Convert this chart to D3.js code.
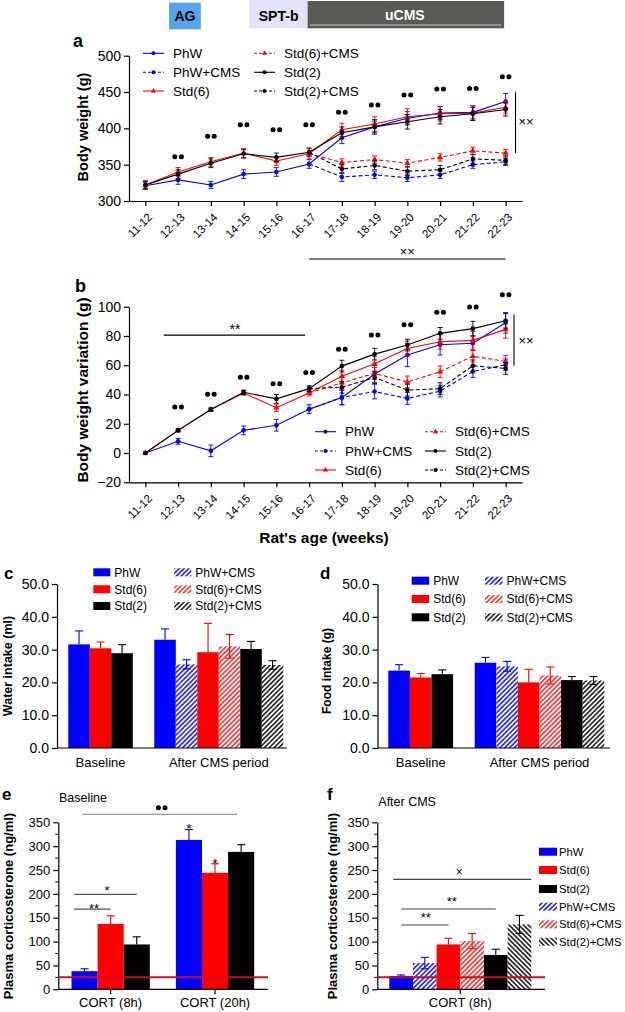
<!DOCTYPE html>
<html><head><meta charset="utf-8">
<script src="https://cdn.jsdelivr.net/npm/d3@7/dist/d3.min.js"></script>
<style>html,body{margin:0;padding:0;background:#fff}svg{display:block}</style>
</head><body>
<svg id="chart" width="625" height="1012"></svg>
<script>
// ---------------- DATA ----------------
const weeks = ["11-12","12-13","13-14","14-15","15-16","16-17","17-18","18-19","19-20","20-21","21-22","22-23"];

// Panel a: body weight (g)
const bwTicks = [300,350,400,450,500];
const bwPhW        = [321,329,322,337,340,351,387,402,414,421,422,437];
const bwPhWErr     = [5,6,5,6,6,6,8,8,9,9,9,11];
const bwPhWCMS     = [null,null,null,null,null,351,333,336,332,336,350,354];
const bwPhWCMSErr  = [null,null,null,null,null,null,6,5,5,5,5,5];
const bwStd6       = [322,340,354,366,355,365,398,406,416,420,421,429];
const bwStd6Err    = [6,6,6,6,6,7,9,10,11,10,10,8];
const bwStd6CMS    = [null,null,null,null,null,365,353,357,352,360,369,366];
const bwStd6CMSErr = [null,null,null,null,null,null,5,5,5,5,5,5];
const bwStd2       = [322,337,352,365,360,367,394,402,409,416,420,426];
const bwStd2Err    = [5,6,6,6,6,6,8,10,10,10,9,9];
const bwStd2CMS    = [null,null,null,null,null,367,344,349,341,343,358,356];
const bwStd2CMSErr = [null,null,null,null,null,null,6,6,6,6,6,6];
const bwSig        = [null,361,389,405,398,405,422,432,446,454,455,471];

// Panel b: body weight variation (g)
const varTicks = [-20,0,20,40,60,80,100];
const varPhW        = [0,8,1.5,15.5,19,30,38,54,67,74,75,89];
const varPhWErr     = [0,2,4,3,4,3,5,6,8,7,5,7];
const varPhWCMS     = [null,null,null,null,null,30,38,42,37.3,42.3,55.7,60.3];
const varPhWCMSErr  = [null,null,null,null,null,null,5,5,4,4,4,4];
const varStd6       = [0,15.5,29.7,41,31,41,52.5,61,71.5,76,77,84.5];
const varStd6Err    = [0,1,1,1.5,2.5,2,4,5,5,5,6,6];
const varStd6CMS    = [null,null,null,null,null,41,48,54.4,48.6,55.5,66.2,62.6];
const varStd6CMSErr = [null,null,null,null,null,null,4,4,4,4,4,4];
const varStd2       = [0,15.5,29.7,41.5,37,44,59.4,67.6,73.8,81.8,85,90.4];
const varStd2Err    = [0,1,1,1.5,3,2,4,4,4,4,5,5];
const varStd2CMS    = [null,null,null,null,null,44,45,51.6,43,44,59.6,57.8];
const varStd2CMSErr = [null,null,null,null,null,null,4,4,4,4,4,4];
const varSig        = [null,31.5,40.2,51.8,47.3,55,71,80.6,87.7,96.2,99.8,108.2];

// Panels c,d: intake
const intakeGroups = ["Baseline","After CMS period"];
const baselineKeys = ["PhW","Std(6)","Std(2)"];
const afterKeys    = ["PhW","PhW+CMS","Std(6)","Std(6)+CMS","Std(2)","Std(2)+CMS"];
const intakeTicks  = [0,10,20,30,40,50];
const waterBaseline    = [31.6,30.4,28.9];
const waterBaselineErr = [4.1,1.9,2.6];
const waterAfter       = [33.0,25.5,29.2,31.0,30.2,25.3];
const waterAfterErr    = [3.3,1.4,8.8,3.6,2.3,1.3];
const foodBaseline     = [23.6,21.5,22.5];
const foodBaselineErr  = [1.8,1.2,1.3];
const foodAfter        = [26.0,24.9,20.0,22.1,20.7,20.6];
const foodAfterErr     = [1.6,1.5,4.0,2.6,1.1,1.2];

// Panels e,f: corticosterone
const cortTicks = [0,50,100,150,200,250,300,350];
const cortGroupsE = ["CORT (8h)","CORT (20h)"];
const cort8h     = [38,137,94];
const cort8hErr  = [5,17,16];
const cort20h    = [313,244,288];
const cort20hErr = [22,19,15];
const cortGroupsF = ["CORT (8h)"];
const cortAfterKeys = ["PhW","PhW+CMS","Std(6)","Std(6)+CMS","Std(2)","Std(2)+CMS"];
const cortAfter    = [28,55,94,101,72,136];
const cortAfterErr = [2,12,13,16,12,19];
const cortRef = 25;

// ---------------- STYLE ----------------
const F = '"Liberation Sans", Arial, Helvetica, sans-serif';
const BLUE = "#0000ff", RED = "#ff0000", BLACK = "#000000";
const svg = d3.select("#chart").attr("font-family", F);
const defs = svg.append("defs");
function hatch(id, color, angle, w) {
  const s = 3.4;
  const p = defs.append("pattern").attr("id", id).attr("patternUnits", "userSpaceOnUse")
    .attr("width", s).attr("height", s).attr("patternTransform", `rotate(${angle})`);
  p.append("rect").attr("width", s).attr("height", s).attr("fill", "#fff");
  p.append("line").attr("x1", s/2).attr("x2", s/2).attr("y1", 0).attr("y2", s)
    .attr("stroke", color).attr("stroke-width", w);
}
hatch("hBlue", BLUE, 45, 1.4);
hatch("hRed", RED, 45, 1.3);
hatch("hBlack", BLACK, 45, 1.4);
hatch("hBlack2", BLACK, -45, 1.4);

const barStyle = {
  "PhW":        {fill: BLUE, color: BLUE, hatched: false},
  "PhW+CMS":    {fill: "url(#hBlue)", color: BLUE, hatched: true},
  "Std(6)":     {fill: RED, color: RED, hatched: false},
  "Std(6)+CMS": {fill: "url(#hRed)", color: RED, hatched: true},
  "Std(2)":     {fill: BLACK, color: BLACK, hatched: false},
  "Std(2)+CMS": {fill: "url(#hBlack)", color: BLACK, hatched: true}
};

function styleAxis(a, fs) {
  a.attr("font-family", F).attr("font-size", fs);
  a.select(".domain").attr("stroke", "#000").attr("stroke-width", 1.2);
  a.selectAll(".tick line").attr("stroke", "#000").attr("stroke-width", 1.2);
  a.selectAll(".tick text").attr("fill", "#000");
}
function sigDots(g, cx, cy) {
  [-3.3, 3.3].forEach(o => g.append("circle").attr("cx", cx + o).attr("cy", cy).attr("r", 2.5).attr("fill", "#000"));
}
function vText(x, y, txt, fs) {
  svg.append("text").attr("transform", `translate(${x},${y}) rotate(-90)`)
    .attr("text-anchor", "middle").attr("font-weight", "bold").attr("font-size", fs).text(txt);
}
function label(x, y, txt, fs, extra) {
  const t = svg.append("text").attr("x", x).attr("y", y).attr("font-size", fs).text(txt);
  if (extra) extra(t);
  return t;
}

// ---------------- LINE PANELS ----------------
function linePanel(o) {
  const x = d3.scalePoint().domain(weeks).range([o.left, o.right]).padding(0.5);
  const y = d3.scaleLinear().domain(o.domain).range([o.bottom, o.top]);
  const g = svg.append("g");
  const ya = g.append("g").attr("transform", `translate(${o.left},0)`)
    .call(d3.axisLeft(y).tickValues(o.ticks).tickSize(5).tickSizeOuter(0).tickPadding(3));
  styleAxis(ya, 14);
  const xg = g.append("g").attr("transform", `translate(0,${o.bottom})`)
    .call(d3.axisBottom(x).tickSize(5).tickSizeOuter(0));
  styleAxis(xg, 11.5);
  xg.selectAll(".tick text").attr("x", 0).attr("y", 0).attr("dy", "0.35em")
    .attr("text-anchor", "end").attr("transform", "translate(4,14) rotate(-45)");

  o.series.forEach(s => {
    const pts = weeks.map((w, i) => ({w, v: s.values[i], e: s.err[i]})).filter(d => d.v != null);
    g.append("path").datum(pts).attr("fill", "none").attr("stroke", s.color)
      .attr("stroke-width", 1.1).attr("stroke-dasharray", s.dashed ? "4,2.5" : null)
      .attr("d", d3.line().x(d => x(d.w)).y(d => y(d.v)));
    const eg = g.append("g").attr("stroke", s.color).attr("stroke-width", 0.9);
    pts.filter(d => d.e).forEach(d => {
      const cx = x(d.w);
      eg.append("line").attr("x1", cx).attr("x2", cx).attr("y1", y(d.v - d.e)).attr("y2", y(d.v + d.e));
      [d.v - d.e, d.v + d.e].forEach(v => eg.append("line").attr("x1", cx - 2.5).attr("x2", cx + 2.5).attr("y1", y(v)).attr("y2", y(v)));
    });
    pts.forEach(d => {
      if (s.marker === "tri") {
        g.append("path").attr("d", d3.symbol(d3.symbolTriangle, 16)()).attr("transform", `translate(${x(d.w)},${y(d.v)})`).attr("fill", s.color);
      } else {
        g.append("circle").attr("cx", x(d.w)).attr("cy", y(d.v)).attr("r", 2.3).attr("fill", s.color);
      }
    });
  });
  o.sig.forEach((v, i) => { if (v != null) sigDots(g, x(weeks[i]), y(v)); });

  // legend
  o.legend.forEach((s, i) => {
    const col = Math.floor(i / 3), row = i % 3;
    const lx = o.legX[col], ly = o.legY[row];
    g.append("line").attr("x1", lx).attr("x2", lx + 21).attr("y1", ly).attr("y2", ly)
      .attr("stroke", s.color).attr("stroke-width", 1.1).attr("stroke-dasharray", s.dashed ? "3,2" : null);
    if (s.marker === "tri") g.append("path").attr("d", d3.symbol(d3.symbolTriangle, 12)()).attr("transform", `translate(${lx + 10.5},${ly})`).attr("fill", s.color);
    else g.append("circle").attr("cx", lx + 10.5).attr("cy", ly).attr("r", 2).attr("fill", s.color);
    g.append("text").attr("x", lx + 30).attr("y", ly).attr("dy", "0.35em").attr("font-size", 13.5).text(s.name);
  });
  return {x, y, g};
}

function mkSeries(names, vals, errs) {
  const cols = [BLUE, BLUE, RED, RED, BLACK, BLACK];
  return names.map((n, i) => ({name: n, values: vals[i], err: errs[i], color: cols[i], dashed: i % 2 === 1, marker: (i === 2 || i === 3) ? "tri" : "dot"}));
}
const seriesNames = ["PhW","PhW+CMS","Std(6)","Std(6)+CMS","Std(2)","Std(2)+CMS"];
const legendOrder = [0, 1, 2, 3, 4, 5];

// ---- Panel a
const sA = mkSeries(seriesNames,
  [bwPhW, bwPhWCMS, bwStd6, bwStd6CMS, bwStd2, bwStd2CMS],
  [bwPhWErr, bwPhWCMSErr, bwStd6Err, bwStd6CMSErr, bwStd2Err, bwStd2CMSErr]);
const A = linePanel({left: 129, right: 522, top: 55.7, bottom: 201, domain: [300, 500], ticks: bwTicks,
  series: sA, sig: bwSig, legend: legendOrder.map(i => sA[i]), legX: [143, 254], legY: [53.3, 72.3, 91]});

// header (timeline)
const hx0 = A.x("16-17") - 1.5, hx1 = A.x("22-23") - 1.5;
svg.append("rect").attr("x", A.x("12-13") - 9).attr("y", 2.7).attr("width", 31.7).attr("height", 26.6).attr("fill", "#55a3ec");
label(A.x("12-13") + 6.8, 20.7, "AG", 14, t => t.attr("text-anchor", "middle").attr("font-weight", "bold"));
svg.append("rect").attr("x", hx0 - 58.3).attr("y", 0).attr("width", 58.3).attr("height", 28.3).attr("fill", "#e2e2f8");
label(hx0 - 29, 20.5, "SPT-b", 14, t => t.attr("text-anchor", "middle").attr("font-weight", "bold"));
svg.append("rect").attr("x", hx0).attr("y", 1).attr("width", hx1 - hx0).attr("height", 27.3).attr("fill", "#595955");
svg.append("line").attr("x1", hx0 + 2).attr("x2", hx1 - 3).attr("y1", 25).attr("y2", 25).attr("stroke", "#c8c8c8").attr("stroke-width", 1);
label((hx0 + hx1) / 2 - 1, 20, "uCMS", 14, t => t.attr("text-anchor", "middle").attr("font-weight", "bold").attr("fill", "#fff"));

label(73, 47, "a", 18, t => t.attr("font-weight", "bold"));
vText(88, 127, "Body weight (g)", 14.5);
// right bracket a
svg.append("line").attr("x1", 515.5).attr("x2", 515.5).attr("y1", A.y(450)).attr("y2", A.y(366)).attr("stroke", "#000").attr("stroke-width", 1.1);
label(526, A.y(410), "××", 13, t => t.attr("text-anchor", "middle").attr("dy", "0.35em"));
// bottom bar under a
svg.append("line").attr("x1", A.x("16-17")).attr("x2", A.x("22-23")).attr("y1", 259).attr("y2", 259).attr("stroke", "#000").attr("stroke-width", 1.1);
label(A.x("19-20"), 256, "××", 13, t => t.attr("text-anchor", "middle"));

// ---- Panel b
const sB = mkSeries(seriesNames,
  [varPhW, varPhWCMS, varStd6, varStd6CMS, varStd2, varStd2CMS],
  [varPhWErr, varPhWCMSErr, varStd6Err, varStd6CMSErr, varStd2Err, varStd2CMSErr]);
const B = linePanel({left: 129, right: 522, top: 306.7, bottom: 482.3, domain: [-20, 100], ticks: varTicks,
  series: sB, sig: varSig, legend: legendOrder.map(i => sB[i]), legX: [315, 425], legY: [431.7, 451, 470]});
label(75, 292, "b", 18, t => t.attr("font-weight", "bold"));
vText(87.5, 390, "Body weight variation (g)", 15.5);
label(324, 543, "Rat's age (weeks)", 15.5, t => t.attr("text-anchor", "middle").attr("font-weight", "bold"));
const bStarY = B.y(80.6);
svg.append("line").attr("x1", (B.x("11-12") + B.x("12-13")) / 2 + 2).attr("x2", B.x("16-17") - 4).attr("y1", bStarY).attr("y2", bStarY).attr("stroke", "#000").attr("stroke-width", 1.1);
label(235, bStarY - 1, "**", 14, t => t.attr("text-anchor", "middle"));
svg.append("line").attr("x1", 514).attr("x2", 514).attr("y1", B.y(94.6)).attr("y2", B.y(59.7)).attr("stroke", "#000").attr("stroke-width", 1.1);
label(526, B.y(77), "××", 13, t => t.attr("text-anchor", "middle").attr("dy", "0.35em"));

// ---------------- BAR PANELS ----------------
function barPanel(o) {
  const g = svg.append("g");
  const y = d3.scaleLinear().domain(o.domain).range([o.bottom, o.top]);
  const nSlots = o.groups.reduce((a, gr) => a + gr.keys.length, 0) + o.groups.length - 1;
  const x = d3.scaleBand().domain(d3.range(nSlots)).range(o.barRange);
  let slot = 0;
  const bars = [], groupPos = [];
  o.groups.forEach(gr => {
    const first = slot;
    gr.keys.forEach((k, i) => { bars.push({key: k, slot, v: gr.values[i], e: gr.errs[i]}); slot++; });
    groupPos.push({name: gr.name, cx: (x(first) + x(slot - 1) + x.bandwidth()) / 2});
    slot++;
  });
  const st = k => Object.assign({}, barStyle[k], (o.override || {})[k] || {});
  g.selectAll("rect.bar").data(bars).join("rect").attr("class", "bar")
    .attr("x", d => x(d.slot)).attr("width", x.bandwidth())
    .attr("y", d => y(d.v)).attr("height", d => y(o.domain[0]) - y(d.v))
    .attr("fill", d => st(d.key).fill);
  bars.forEach(d => {
    const s = st(d.key), cx = x(d.slot) + x.bandwidth() / 2;
    const lo = s.hatched ? d.v - d.e : d.v, hi = d.v + d.e;
    const eg = g.append("g").attr("stroke", s.color).attr("stroke-width", 1.1);
    eg.append("line").attr("x1", cx).attr("x2", cx).attr("y1", y(lo)).attr("y2", y(hi));
    eg.append("line").attr("x1", cx - 4).attr("x2", cx + 4).attr("y1", y(hi)).attr("y2", y(hi));
    if (s.hatched) eg.append("line").attr("x1", cx - 4).attr("x2", cx + 4).attr("y1", y(lo)).attr("y2", y(lo));
  });
  const ya = g.append("g").attr("transform", `translate(${o.left},0)`)
    .call(d3.axisLeft(y).tickValues(o.ticks).tickFormat(o.fmt).tickSize(5).tickSizeOuter(0).tickPadding(3));
  styleAxis(ya, o.tickFs);
  if (o.minor) {
    o.minor.forEach(v => g.append("line").attr("x1", o.left - 3).attr("x2", o.left).attr("y1", y(v)).attr("y2", y(v)).attr("stroke", "#000").attr("stroke-width", 1));
  }
  g.append("line").attr("x1", o.left).attr("x2", o.right).attr("y1", y(o.domain[0])).attr("y2", y(o.domain[0])).attr("stroke", "#000").attr("stroke-width", 1.2);
  groupPos.forEach(p => {
    if (o.xTicks) g.append("line").attr("x1", p.cx).attr("x2", p.cx).attr("y1", y(o.domain[0])).attr("y2", y(o.domain[0]) + 5).attr("stroke", "#000").attr("stroke-width", 1.2);
    g.append("text").attr("x", p.cx).attr("y", y(o.domain[0]) + o.xLabDy).attr("text-anchor", "middle").attr("font-size", o.xLabFs).text(p.name);
  });
  if (o.ref != null) g.append("line").attr("x1", o.left).attr("x2", o.right).attr("y1", y(o.ref)).attr("y2", y(o.ref)).attr("stroke", "#c8101e").attr("stroke-width", 2);
  // legend
  o.legend.items.forEach((k, i) => {
    const col = Math.floor(i / o.legend.rows), row = i % o.legend.rows;
    const lx = o.legend.x[col], ly = o.legend.y[row];
    g.append("rect").attr("x", lx).attr("y", ly - 4).attr("width", o.legend.w).attr("height", 8).attr("fill", st(k).fill);
    g.append("text").attr("x", lx + o.legend.w + o.legend.gap).attr("y", ly).attr("dy", "0.35em").attr("font-size", o.legend.fs).text(k);
  });
  return {x, y, g};
}

const fmt1 = d3.format(".1f");
// ---- Panel c
barPanel({left: 57, right: 287, top: 584, bottom: 748, domain: [0, 50], ticks: intakeTicks, fmt: fmt1, tickFs: 14,
  barRange: [68.3, 283.3],
  groups: [{name: intakeGroups[0], keys: baselineKeys, values: waterBaseline, errs: waterBaselineErr},
           {name: intakeGroups[1], keys: afterKeys, values: waterAfter, errs: waterAfterErr}],
  xLabDy: 19, xLabFs: 13,
  legend: {items: ["PhW","Std(6)","Std(2)","PhW+CMS","Std(6)+CMS","Std(2)+CMS"], rows: 3, x: [93.3, 174.3], y: [572.3, 589.3, 606], w: 17, gap: 4, fs: 12}});
label(4, 579, "c", 17, t => t.attr("font-weight", "bold"));
vText(12, 666, "Water intake (ml)", 12.5);

// ---- Panel d
barPanel({left: 377.5, right: 610, top: 584, bottom: 748, domain: [0, 50], ticks: intakeTicks, fmt: fmt1, tickFs: 14,
  barRange: [388.3, 604.3],
  groups: [{name: intakeGroups[0], keys: baselineKeys, values: foodBaseline, errs: foodBaselineErr},
           {name: intakeGroups[1], keys: afterKeys, values: foodAfter, errs: foodAfterErr}],
  xLabDy: 19, xLabFs: 13,
  legend: {items: ["PhW","Std(6)","Std(2)","PhW+CMS","Std(6)+CMS","Std(2)+CMS"], rows: 3, x: [411.7, 485], y: [580.7, 599, 617.3], w: 17.5, gap: 4, fs: 12}});
label(320, 579, "d", 17, t => t.attr("font-weight", "bold"));
vText(331, 671, "Food intake (g)", 12);

// ---- Panel e
const minorC = d3.range(25, 350, 50);
const E = barPanel({left: 58.3, right: 268, top: 822.3, bottom: 989.3, domain: [0, 350], ticks: cortTicks, fmt: d3.format("d"), tickFs: 13,
  minor: minorC, barRange: [71.5, 254.2], xTicks: true,
  groups: [{name: cortGroupsE[0], keys: baselineKeys, values: cort8h, errs: cort8hErr},
           {name: cortGroupsE[1], keys: baselineKeys, values: cort20h, errs: cort20hErr}],
  xLabDy: 18, xLabFs: 13, ref: cortRef,
  legend: {items: [], rows: 3, x: [], y: [], w: 0, gap: 0, fs: 12}});
label(2, 800, "e", 17, t => t.attr("font-weight", "bold"));
label(59, 802, "Baseline", 12.5);
vText(12.5, 906, "Plasma corticosterone (ng/ml)", 13);
function sigLine(P, x1, x2, v, color) {
  svg.append("line").attr("x1", x1).attr("x2", x2).attr("y1", P.y(v)).attr("y2", P.y(v)).attr("stroke", color).attr("stroke-width", 1.2);
}
const eb = E.x.bandwidth();
sigLine(E, E.x(0) + 2.5, E.x(1) + eb / 2, 168, "#555");
label((E.x(0) + E.x(1) + eb / 2) / 2 + 3, E.y(168) + 4, "**", 13, t => t.attr("text-anchor", "middle"));
sigLine(E, E.x(0) + 2.5, E.x(2) + eb / 2, 199, "#555");
label((E.x(0) + E.x(2) + eb / 2) / 2 + 3, E.y(199) + 1, "*", 13, t => t.attr("text-anchor", "middle"));
sigLine(E, E.x(0) + eb / 2 - 2, E.x(6) + eb / 2 - 4, 366.7, "#999");
sigDots(svg, 161.7, E.y(366.7) - 6.5);
label(E.x(4) + eb / 2, E.y(345) + 8, "*", 13, t => t.attr("text-anchor", "middle"));
label(E.x(5) + eb / 2, E.y(271) + 8, "*", 13, t => t.attr("text-anchor", "middle"));

// ---- Panel f
const Fp = barPanel({left: 377.3, right: 545, top: 822.3, bottom: 989.3, domain: [0, 350], ticks: cortTicks, fmt: d3.format("d"), tickFs: 13,
  minor: minorC, barRange: [389.3, 531.3], xTicks: true,
  groups: [{name: cortGroupsF[0], keys: cortAfterKeys, values: cortAfter, errs: cortAfterErr}],
  override: {"Std(2)+CMS": {fill: "url(#hBlack2)"}},
  xLabDy: 18, xLabFs: 13, ref: cortRef,
  legend: {items: ["PhW","Std(6)","Std(2)","PhW+CMS","Std(6)+CMS","Std(2)+CMS"], rows: 6, x: [539], y: [851.7, 870, 889, 906.7, 924.3, 941.7], w: 18, gap: 2, fs: 11.3}});
label(327, 800, "f", 17, t => t.attr("font-weight", "bold"));
label(378.3, 806, "After CMS", 12.5);
vText(337, 906, "Plasma corticosterone (ng/ml)", 13);
const fb = Fp.x.bandwidth();
sigLine(Fp, Fp.x(0) + 4, Fp.x(5) + fb, 230.5, "#444");
label(459.3, Fp.y(230.5) - 3, "×", 12, t => t.attr("text-anchor", "middle"));
sigLine(Fp, Fp.x(0) + fb / 2, Fp.x(4) + fb / 2, 168.3, "#444");
label(451.7, Fp.y(168.3) - 3, "**", 13, t => t.attr("text-anchor", "middle"));
sigLine(Fp, Fp.x(0) + fb / 2, Fp.x(2) + fb / 2, 134.8, "#444");
label(425.7, Fp.y(134.8) - 3, "**", 13, t => t.attr("text-anchor", "middle"));
</script>
</body></html>
